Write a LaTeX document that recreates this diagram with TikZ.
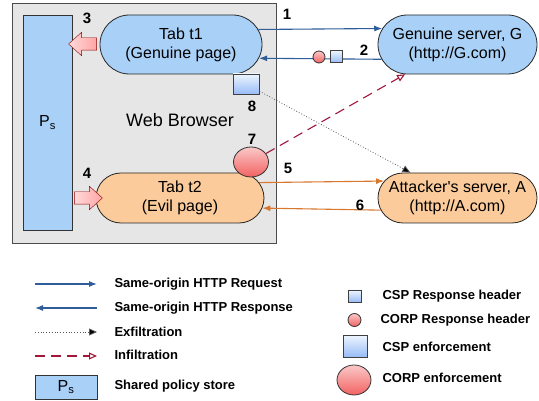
\documentclass[tikz,border=0pt]{standalone}
\usepackage{fontspec}
\setmainfont{Liberation Sans}
\usetikzlibrary{positioning,arrows.meta,shapes.geometric,shapes.misc,shapes.arrows}
\definecolor{tabblue}{HTML}{A9D1F7}
\definecolor{taborange}{HTML}{FCCB9B}
\definecolor{browsergray}{HTML}{E6E6E6}
\definecolor{reqblue}{HTML}{2F5E9A}
\definecolor{reqorange}{HTML}{D8782F}
\definecolor{infred}{HTML}{A0163A}
\definecolor{corpred}{HTML}{F26262}
\tikzset{
  tab/.style={rounded rectangle,draw=black!85,thick,align=center,inner sep=0pt,
    font=\fontsize{16}{19}\selectfont},
  bluetab/.style={tab,fill=tabblue},
  orangetab/.style={tab,fill=taborange},
  store/.style={rectangle,draw=black!80,thick,fill=tabblue,inner sep=0pt,
    font=\fontsize{16}{19}\selectfont},
  fatarrow/.style={single arrow,draw=red!55!black,left color=red!15,right color=red!35,inner sep=0pt,
    inner ysep=6pt,minimum height=28pt,single arrow head extend=5.5pt,single arrow tip angle=84},
  cspbox/.style={rectangle,draw=black!75,thick,top color=tabblue!20,bottom color=tabblue!90!blue,
    inner sep=0pt},
  corpdot/.style={ellipse,draw=black!80,thick,top color=corpred!35!white,bottom color=corpred,
    inner sep=0pt},
  num/.style={font=\bfseries\fontsize{15}{18}\selectfont},
  legtxt/.style={anchor=west,font=\bfseries\fontsize{13}{16}\selectfont},
  req/.style={draw=reqblue,line width=1.1pt,-{Latex[length=8pt,width=6pt]}},
  evilreq/.style={draw=reqorange,line width=1.1pt,-{Latex[length=8pt,width=6pt]}},
  exfil/.style={draw=black!65,dotted,line width=0.8pt,-{Triangle[length=8pt,width=7pt,fill=black]}},
  infil/.style={draw=infred,line width=1.1pt,dash pattern=on 10pt off 6pt,
    -{Triangle[open,length=8pt,width=7pt]}},
}
\begin{document}
\begin{tikzpicture}[x=1pt,y=-1pt]
  \useasboundingbox (0,0) rectangle (539,401);
  % browser window
  \node[rectangle,draw=black!70,thick,fill=browsergray,minimum width=264pt,minimum height=240pt,
    inner sep=0pt] (browser) at (144,123) {};
  \node[font=\fontsize{18}{21}\selectfont] (wb) at (180,120) {Web Browser};
  \node[store,minimum width=49pt,minimum height=215pt] (ps) at (47.5,122.5) {P\textsubscript{s}};
  \node[bluetab,minimum width=162pt,minimum height=59pt] (t1) at (181,44.5) {Tab t1\\(Genuine page)};
  \node[orangetab,minimum width=168pt,minimum height=50pt] (t2) at (180,198) {Tab t2\\(Evil page)};
  % policy store reads and writes
  \node[fatarrow,shape border rotate=180] (a3) at (86,44) {};
  \node[fatarrow] (a4) at (85,198) {};
  \node[num] (n3) at (87,18) {3};
  \node[num] (n4) at (87,173) {4};
  % servers
  \node[bluetab,minimum width=159pt,minimum height=59pt] (gs) at (457.5,44.5) {Genuine server, G\\(http://G.com)};
  \node[orangetab,minimum width=159pt,minimum height=50pt] (as) at (457.5,198) {Attacker\textquotesingle s server, A\\(http://A.com)};
  % enforcement points
  \node[cspbox,minimum width=26pt,minimum height=20pt] (cspe) at (246,84) {};
  \node[corpdot,minimum width=35pt,minimum height=30pt] (corpe) at (251,162) {};
  \node[num] (n8) at (252,106) {8};
  \node[num] (n7) at (252,139) {7};
  % same-origin traffic
  \draw[req] (t1.11) -- (gs.168);
  \draw[req] (gs.-169) -- (t1.-10.6);
  \draw[evilreq] (t2.11.6) -- (as.167.7);
  \draw[evilreq] (as.-171.9) -- (t2.-7.7);
  \node[corpdot,minimum width=12pt,minimum height=12pt] (corph) at (319,57) {};
  \node[cspbox,minimum width=12pt,minimum height=12pt] (csph) at (336.5,56.5) {};
  \node[num] (n1) at (287,14) {1};
  \node[num] (n2) at (364,50) {2};
  \node[num] (n5) at (288,168) {5};
  \node[num] (n6) at (360,205) {6};
  % leaks
  \draw[exfil] (cspe) -- (as);
  \draw[infil] (corpe) -- (gs);
  % legend, left column
  \coordinate (l1a) at (35,284); \coordinate (l1b) at (97,284);
  \coordinate (l2a) at (35,308); \coordinate (l2b) at (97,308);
  \coordinate (l3a) at (35,332); \coordinate (l3b) at (97,332);
  \coordinate (l4a) at (35,356); \coordinate (l4b) at (97,356);
  \draw[req] (l1a) -- (l1b);
  \draw[req] (l2b) -- (l2a);
  \draw[exfil] (l3a) -- (l3b);
  \draw[infil] (l4a) -- (l4b);
  \node[legtxt] (t-req) at (111,284) {Same-origin HTTP Request};
  \node[legtxt] (t-resp) at (111,308) {Same-origin HTTP Response};
  \node[legtxt] (t-exf) at (111,332) {Exfiltration};
  \node[legtxt] (t-inf) at (111,355) {Infiltration};
  \node[store,minimum width=62pt,minimum height=24pt] (lps) at (66,387) {P\textsubscript{s}};
  \node[legtxt] (t-ps) at (111,386) {Shared policy store};
  % legend, right column
  \node[cspbox,minimum width=13pt,minimum height=12pt] (lcsph) at (354.5,296) {};
  \node[corpdot,minimum width=13pt,minimum height=13pt] (lcorph) at (354.5,320) {};
  \node[cspbox,minimum width=24pt,minimum height=22pt] (lcspe) at (355,346) {};
  \node[corpdot,minimum width=34pt,minimum height=30pt] (lcorpe) at (354,380) {};
  \node[legtxt] (t-csph) at (379,296) {CSP Response header};
  \node[legtxt] (t-corph) at (377,320) {CORP Response header};
  \node[legtxt] (t-cspe) at (379,347) {CSP enforcement};
  \node[legtxt] (t-corpe) at (379,378) {CORP enforcement};
\end{tikzpicture}
\end{document}
